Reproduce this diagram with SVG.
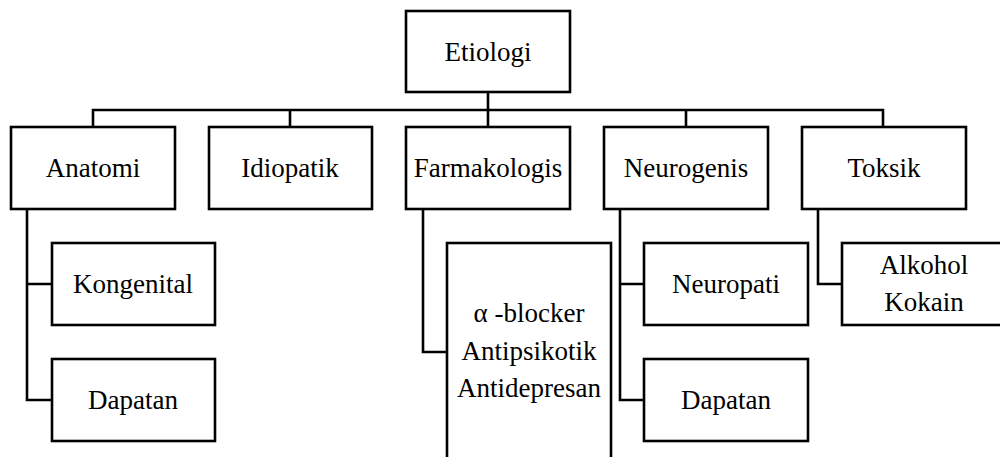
<svg xmlns="http://www.w3.org/2000/svg" width="1000" height="457" viewBox="0 0 1000 457">
<style>
.box{fill:#fff;stroke:#000;stroke-width:2.6}
.ln{fill:none;stroke:#000;stroke-width:2.6}
text{font-family:"Liberation Serif","Times New Roman",serif;font-size:27px;fill:#000;text-anchor:middle}
</style>
<rect width="1000" height="457" fill="#fff"/>
<g id="connectors">
<path class="ln" d="M488,92 V110 M93,127 V110 H883 V127 M290,110 V127 M488,110 V127 M686,110 V127"/>
<path class="ln" d="M27,209 V400 H52 M27,284 H52"/>
<path class="ln" d="M423,209 V352 H447"/>
<path class="ln" d="M620,209 V400 H644 M620,284 H644"/>
<path class="ln" d="M818,209 V284 H842"/>
</g>
<g id="etiologi"><rect class="box" x="406" y="11" width="164" height="81"/><text x="488" y="61">Etiologi</text></g>
<g id="anatomi"><rect class="box" x="11" y="127" width="164" height="82"/><text x="93" y="177">Anatomi</text></g>
<g id="idiopatik"><rect class="box" x="209" y="127" width="163" height="82"/><text x="290" y="177">Idiopatik</text></g>
<g id="farmakologis"><rect class="box" x="406" y="127" width="164" height="82"/><text x="488" y="177">Farmakologis</text></g>
<g id="neurogenis"><rect class="box" x="604" y="127" width="164" height="82"/><text x="686" y="177">Neurogenis</text></g>
<g id="toksik"><rect class="box" x="802" y="127" width="164" height="82"/><text x="884" y="177">Toksik</text></g>
<g id="kongenital"><rect class="box" x="52" y="243" width="163" height="82"/><text x="133" y="293">Kongenital</text></g>
<g id="dapatan1"><rect class="box" x="52" y="359" width="163" height="82"/><text x="133" y="409">Dapatan</text></g>
<g id="obat"><rect class="box" x="447" y="243" width="164" height="230"/><text x="529" y="322">α -blocker</text><text x="529" y="360">Antipsikotik</text><text x="529" y="397">Antidepresan</text></g>
<g id="neuropati"><rect class="box" x="644" y="243" width="164" height="82"/><text x="726" y="293">Neuropati</text></g>
<g id="dapatan2"><rect class="box" x="644" y="359" width="164" height="82"/><text x="726" y="409">Dapatan</text></g>
<g id="alkohol"><rect class="box" x="842" y="243" width="164" height="82"/><text x="924" y="274">Alkohol</text><text x="924" y="311">Kokain</text></g>
</svg>
